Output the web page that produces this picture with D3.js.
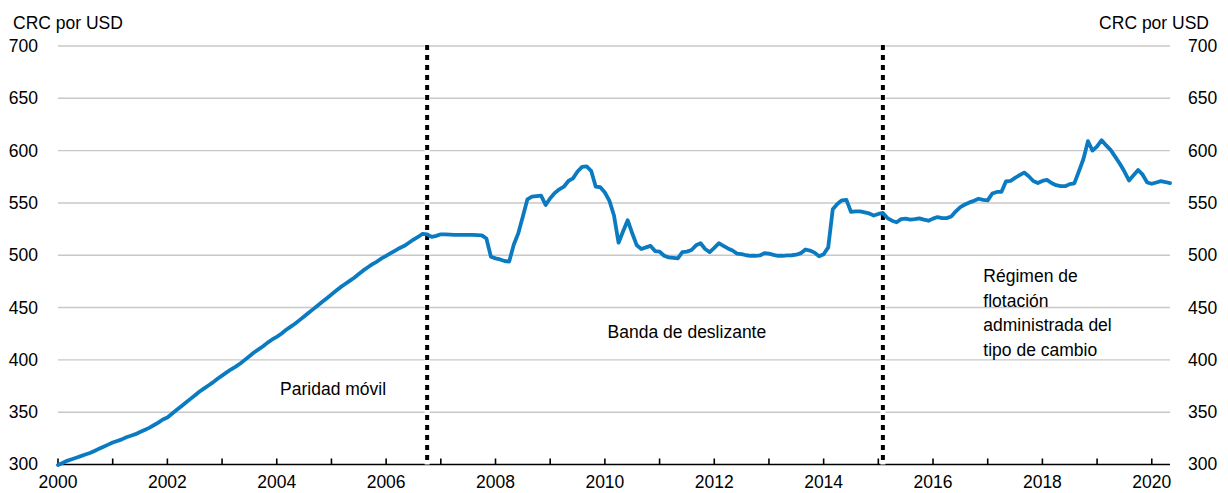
<!DOCTYPE html>
<html>
<head>
<meta charset="utf-8">
<script src="https://cdn.jsdelivr.net/npm/d3@7"></script>
<style>
  html, body { margin: 0; padding: 0; background: #fff; }
  svg { display: block; }
  text { font-family: "Liberation Sans", Arial, sans-serif; font-size: 17.5px; fill: #000; }
</style>
</head>
<body>
<svg id="chart" width="1228" height="493"></svg>
<script>
// ---- data (monthly CRC per USD, Jan 2000 – May 2020) ----
const startYear = 2000;
const values = [
  // 2000
  299.5, 301.5, 303.5, 305, 306.5, 308, 309.5, 311, 313, 315, 317, 319,
  // 2001
  321, 322.5, 324, 326, 327.5, 329, 331, 333, 335, 337.5, 340, 343,
  // 2002
  345, 348.5, 352, 355.5, 359, 362.5, 366, 369.5, 372.5, 375.5, 378.5, 382,
  // 2003
  385, 388, 391, 393.5, 396.5, 400, 403.5, 407, 410, 413, 416.5, 419.5,
  // 2004
  422, 425, 428.5, 431.5, 434.5, 438, 441.5, 445, 448.5, 452, 455.5, 459,
  // 2005
  462.5, 466, 469.5, 472.5, 475.5, 478.5, 482, 485.5, 488.5, 491.5, 494, 497,
  // 2006
  499.5, 502, 504.5, 507, 509, 512, 515, 517.5, 520.5, 520, 517.5, 518.5,
  // 2007
  520, 520, 519.8, 519.5, 519.5, 519.5, 519.5, 519.5, 519.3, 519, 516, 498.5,
  // 2008
  497, 496, 494.5, 494, 510, 521, 537, 553.5, 556, 556.5, 557, 548,
  // 2009
  554.5, 559.5, 563, 565.5, 571, 573.5, 580, 584.5, 585, 580.5, 565.5, 565,
  // 2010
  560, 552, 538, 512, 523, 533.5, 521, 509.5, 506, 507.5, 509, 504,
  // 2011
  503.5, 499.5, 498, 497.5, 497, 503, 503.5, 505, 509.5, 511.5, 506, 503,
  // 2012
  507, 511.5, 509, 506.5, 504.5, 501.5, 501, 500, 499.5, 499.5, 499.8, 502,
  // 2013
  501.5, 500.3, 499.5, 499.5, 499.8, 500, 500.5, 502, 505.5, 504.5, 502.5, 499,
  // 2014
  501, 507.5, 544, 549, 552.5, 553, 541.5, 542, 542, 541, 540, 538,
  // 2015
  539.5, 540.5, 535.5, 533, 531.5, 534.5, 535, 534, 534.5, 535.3, 534, 533,
  // 2016
  535, 536.5, 535.5, 535.5, 537, 542, 546, 548.5, 550.5, 552, 554, 553,
  // 2017
  552.5, 559, 560.5, 560.5, 570.5, 571, 574, 576.5, 579, 575.5, 571, 569,
  // 2018
  571, 572, 569, 567, 566, 566, 568, 568.7, 580, 592, 609, 600,
  // 2019
  604, 610, 605, 600.5, 594, 587.5, 580, 571.5, 576.5, 581.5, 577, 569.5,
  // 2020
  568.3, 569.5, 570.8, 570, 569
];
const yTicks = [300, 350, 400, 450, 500, 550, 600, 650, 700];
const xLabelYears = [2000, 2002, 2004, 2006, 2008, 2010, 2012, 2014, 2016, 2018, 2020];
const tickYears = d3.range(2000, 2021);
const regimeBreaks = [
  { year: 2006, month: 10 },
  { year: 2015, month: 2 }
];
const annotations = [
  { lines: ["Paridad móvil"], year: 2005.03, value: 366, anchor: "middle" },
  { lines: ["Banda de deslizante"], year: 2011.5, value: 421, anchor: "middle" },
  { lines: ["Régimen de", "flotación", "administrada del", "tipo de cambio"], year: 2016.92, value: 474, anchor: "start" }
];
const unitLabel = "CRC por USD";

// ---- layout ----
const svg = d3.select("#chart");
const plotLeft = 58, plotRight = 1170, plotTop = 46, plotBottom = 464.5;
const nMonths = values.length; // 245
const x = d3.scaleLinear().domain([0, nMonths - 1]).range([plotLeft, plotRight]);
const y = d3.scaleLinear().domain([300, 700]).range([plotBottom, plotTop]);
const monthIndex = (yr, mo) => (yr - startYear) * 12 + (mo - 1);
const yearPos = yr => x((yr - startYear) * 12);

// gridlines
svg.append("g").selectAll("line")
  .data(yTicks.filter(v => v > 300))
  .join("line")
  .attr("x1", plotLeft).attr("x2", plotRight)
  .attr("y1", d => y(d)).attr("y2", d => y(d))
  .attr("stroke", "#c8c8c8").attr("stroke-width", 1.4);

// left / right tick labels
svg.append("g").selectAll("text")
  .data(yTicks).join("text")
  .attr("x", 38).attr("y", d => y(d)).attr("dy", "0.34em")
  .attr("text-anchor", "end").text(d => d);
svg.append("g").selectAll("text")
  .data(yTicks).join("text")
  .attr("x", 1188).attr("y", d => y(d)).attr("dy", "0.34em")
  .attr("text-anchor", "start").text(d => d);

// unit labels
svg.append("text").attr("x", 13).attr("y", 29).text(unitLabel);
svg.append("text").attr("x", 1209).attr("y", 29).attr("text-anchor", "end").text(unitLabel);

// x axis line + ticks
svg.append("line")
  .attr("x1", plotLeft).attr("x2", plotRight)
  .attr("y1", plotBottom).attr("y2", plotBottom)
  .attr("stroke", "#000").attr("stroke-width", 1.6);
svg.append("g").selectAll("line")
  .data(tickYears).join("line")
  .attr("x1", d => yearPos(d)).attr("x2", d => yearPos(d))
  .attr("y1", plotBottom).attr("y2", plotBottom - 6)
  .attr("stroke", "#000").attr("stroke-width", 1.6);
svg.append("g").selectAll("text")
  .data(xLabelYears).join("text")
  .attr("x", d => yearPos(d)).attr("y", 488)
  .attr("text-anchor", "middle").text(d => d);

// regime break lines (white underlay + black dots)
const br = svg.append("g");
regimeBreaks.forEach(b => {
  const bx = x(monthIndex(b.year, b.month));
  br.append("line")
    .attr("x1", bx).attr("x2", bx).attr("y1", plotTop - 1).attr("y2", plotBottom)
    .attr("stroke", "#fff").attr("stroke-width", 5);
  br.append("line")
    .attr("x1", bx).attr("x2", bx).attr("y1", plotTop - 1).attr("y2", plotBottom)
    .attr("stroke", "#000").attr("stroke-width", 4)
    .attr("stroke-dasharray", "5,5");
});

// series
const line = d3.line()
  .x((d, i) => x(i))
  .y(d => y(d));
svg.append("path")
  .datum(values)
  .attr("d", line)
  .attr("fill", "none")
  .attr("stroke", "#0b7bc1")
  .attr("stroke-width", 3.8)
  .attr("stroke-linejoin", "round")
  .attr("stroke-linecap", "round");

// annotations
annotations.forEach(a => {
  const t = svg.append("text")
    .attr("x", x((a.year - startYear) * 12))
    .attr("y", y(a.value))
    .attr("text-anchor", a.anchor);
  a.lines.forEach((ln, i) => {
    t.append("tspan")
      .attr("x", x((a.year - startYear) * 12))
      .attr("dy", i === 0 ? 0 : 24.5)
      .text(ln);
  });
});
</script>
</body>
</html>
